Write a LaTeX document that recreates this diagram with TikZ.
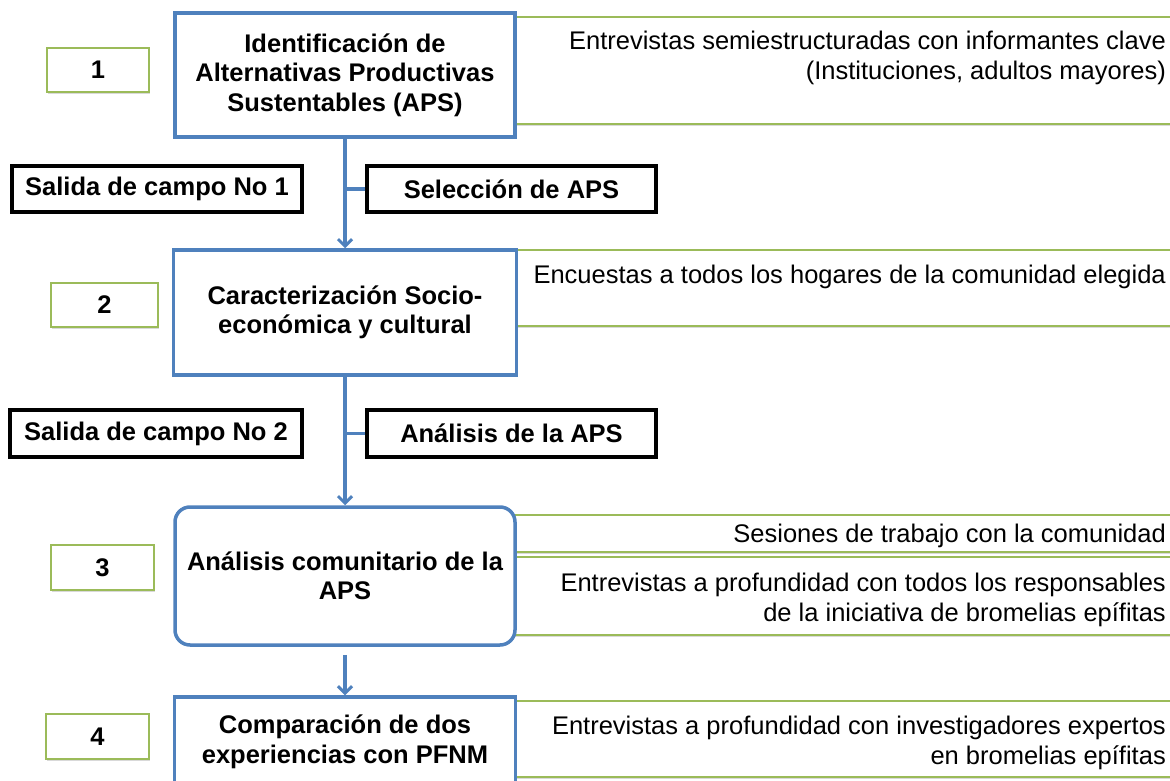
\documentclass[tikz,border=0pt]{standalone}
\usepackage{fontspec}
\setmainfont{Liberation Sans}
\usetikzlibrary{arrows.meta,shadows}
\definecolor{bblue}{RGB}{79,129,189}
\definecolor{bgreen}{RGB}{155,187,89}
\begin{document}
\begin{tikzpicture}[x=1pt,y=1pt,
  mainbox/.style={draw=bblue,line width=3.5pt,fill=white,align=center,font=\bfseries\fontsize{25.5}{29.5}\selectfont,inner sep=0pt},
  softshadow/.style={drop shadow={shadow xshift=0.8pt,shadow yshift=-2.2pt,opacity=0.15,fill=black}},
  numbox/.style={draw=bgreen,line width=2.2pt,fill=white,font=\bfseries\fontsize{25.5}{29.5}\selectfont,inner sep=0pt,softshadow},
  tagbox/.style={draw=black,line width=3.5pt,fill=white,font=\bfseries\fontsize{25.5}{29.5}\selectfont,inner sep=0pt,softshadow},
  rbox/.style={draw=bgreen,line width=2.2pt,fill=white,inner sep=0pt,softshadow},
  rtext/.style={align=right,anchor=east,inner sep=0pt,font=\fontsize{25.5}{29.5}\selectfont},
  flow/.style={draw=bblue,line width=3.2pt},
  flowarrow/.style={flow,-{Straight Barb[length=7pt,width=14pt,line width=3pt]}}
]
\useasboundingbox (0,0) rectangle (1170,-781);
\clip (0,0) rectangle (1170,-781);

% right-hand green boxes
\node[rbox,minimum width=665,minimum height=107] (r1) at (847.5,-70.5) {};
\node[rbox,minimum width=665,minimum height=76] (r2) at (847.5,-288) {};
\node[rbox,minimum width=666,minimum height=37] (r3a) at (847,-533.5) {};
\node[rbox,minimum width=666,minimum height=78] (r3b) at (847,-596) {};
\node[rbox,minimum width=665,minimum height=76] (r4) at (847.5,-739) {};

\node[rtext] (t1) at (1166,-58) {Entrevistas semiestructuradas con informantes clave\\(Instituciones, adultos mayores)};
\node[rtext] (t2) at (1166,-277) {Encuestas a todos los hogares de la comunidad elegida};
\node[rtext] (t3a) at (1166,-536) {Sesiones de trabajo con la comunidad};
\node[rtext] (t3b) at (1166,-600) {Entrevistas a profundidad con todos los responsables\\de la iniciativa de bromelias epífitas};
\node[rtext] (t4) at (1166,-743) {Entrevistas a profundidad con investigadores expertos\\en bromelias epífitas};

% main boxes
\node[mainbox,minimum width=340,minimum height=124] (b1) at (345,-75) {Identificación de\\Alternativas Productivas\\Sustentables (APS)};
\node[mainbox,minimum width=343,minimum height=125] (b2) at (345,-312.5) {Caracterización Socio-\\económica y cultural};
\node[mainbox,rounded corners=15pt,minimum width=340,minimum height=138] (b3) at (345,-576) {Análisis comunitario de la\\APS};
\node[mainbox,minimum width=341,minimum height=90] (b4) at (345,-742) {Comparación de dos\\experiencias con PFNM};

% number boxes
\node[numbox,minimum width=102,minimum height=44] (n1) at (98,-70) {1};
\node[numbox,minimum width=107,minimum height=44] (n2) at (104.5,-305) {2};
\node[numbox,minimum width=103,minimum height=45] (n3) at (102.5,-567.5) {3};
\node[numbox,minimum width=103,minimum height=45] (n4) at (97.5,-736.5) {4};

% black tag boxes
\node[tagbox,minimum width=290,minimum height=46] (s1) at (157,-189) {Salida de campo No 1};
\node[tagbox,minimum width=289,minimum height=46] (sel) at (511.5,-189) {Selección de APS};
\node[tagbox,minimum width=292,minimum height=47] (s2) at (156,-433.5) {Salida de campo No 2};
\node[tagbox,minimum width=289,minimum height=47] (ana) at (511.5,-433.5) {Análisis de la APS};

% connectors
\draw[flowarrow] (b1.south) -- (b2.north);
\draw[flow] (sel.west) -- (sel.west -| b1.south);
\draw[flowarrow] (b2.south) -- (b3.north);
\draw[flow] (ana.west) -- (ana.west -| b2.south);
\coordinate (c3) at ([yshift=-8pt]b3.south);
\draw[flowarrow] (c3) -- (b4.north);
\end{tikzpicture}
\end{document}
